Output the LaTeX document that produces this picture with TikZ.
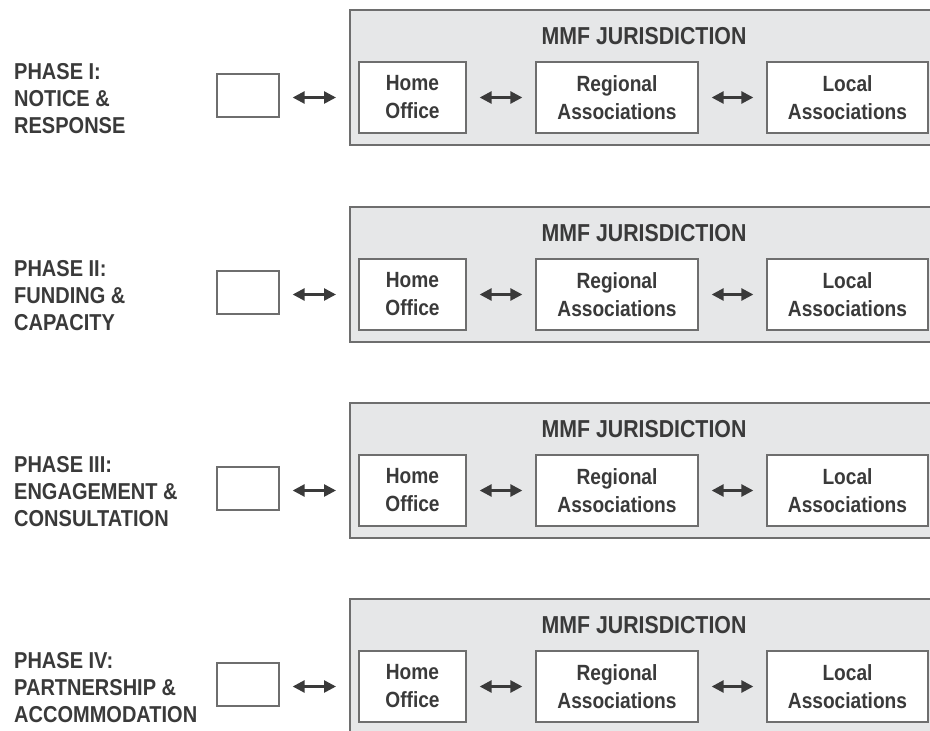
\documentclass[tikz,border=0pt]{standalone}
\usepackage{fontspec}
\setmainfont{Liberation Sans}[FakeStretch=0.87]
\usetikzlibrary{arrows.meta}
\definecolor{txt}{HTML}{3A3A3A}
\definecolor{panel}{HTML}{E6E7E8}
\definecolor{edge}{HTML}{6E6E6E}
\begin{document}
\begin{tikzpicture}[x=1pt,y=-1pt,
  panelbox/.style={draw=edge,fill=panel,line width=1.5pt,inner sep=0pt,minimum width=600pt,minimum height=135pt,anchor=north west},
  unitbox/.style={draw=edge,fill=white,line width=1.3pt,inner sep=0pt,align=center,text=txt,minimum height=71pt,font=\bfseries\fontsize{22}{28}\selectfont},
  blankbox/.style={draw=edge,fill=white,line width=1.3pt,minimum width=62pt,minimum height=43pt,inner sep=0pt},
  link/.style={{Triangle[length=12pt,width=12pt]}-{Triangle[length=12pt,width=12pt]},draw=txt,line width=2.6pt,shorten <=13pt,shorten >=13pt},
  phase/.style={anchor=west,align=left,text=txt,font=\bfseries\fontsize{23}{27}\selectfont,inner sep=0pt},
  jtitle/.style={text=txt,font=\bfseries\fontsize{24.5}{28}\selectfont,inner sep=0pt}]
\useasboundingbox (0,0) rectangle (930,731);
\foreach \i/\T/\la/\lb/\lc in {
  1/9/{PHASE I:}/{NOTICE \&}/{RESPONSE},
  2/206/{PHASE II:}/{FUNDING \&}/{CAPACITY},
  3/402/{PHASE III:}/{ENGAGEMENT \&}/{CONSULTATION},
  4/598/{PHASE IV:}/{PARTNERSHIP \&}/{ACCOMMODATION}}{
  \node[panelbox] (out\i) at (349,\T) {};
  \node[jtitle] (tt\i) at (644,{\T+27}) {MMF JURISDICTION};
  \node[unitbox,minimum width=107pt] (ho\i) at (412.5,{\T+88.5}) {Home\\Office};
  \node[unitbox,minimum width=162pt] (reg\i) at (617,{\T+88.5}) {Regional\\Associations};
  \node[unitbox,minimum width=161pt] (loc\i) at (847.5,{\T+88.5}) {Local\\Associations};
  \node[blankbox] (bl\i) at (248,{\T+86.5}) {};
  \node[phase] (ph\i) at (14,{\T+90}) {\la\\\lb\\\lc};
  \draw[link] (bl\i.east |- ho\i.west) -- (out\i.west |- ho\i.west);
  \draw[link] (ho\i.east) -- (reg\i.west);
  \draw[link] (reg\i.east) -- (loc\i.west);
}
\end{tikzpicture}
\end{document}
